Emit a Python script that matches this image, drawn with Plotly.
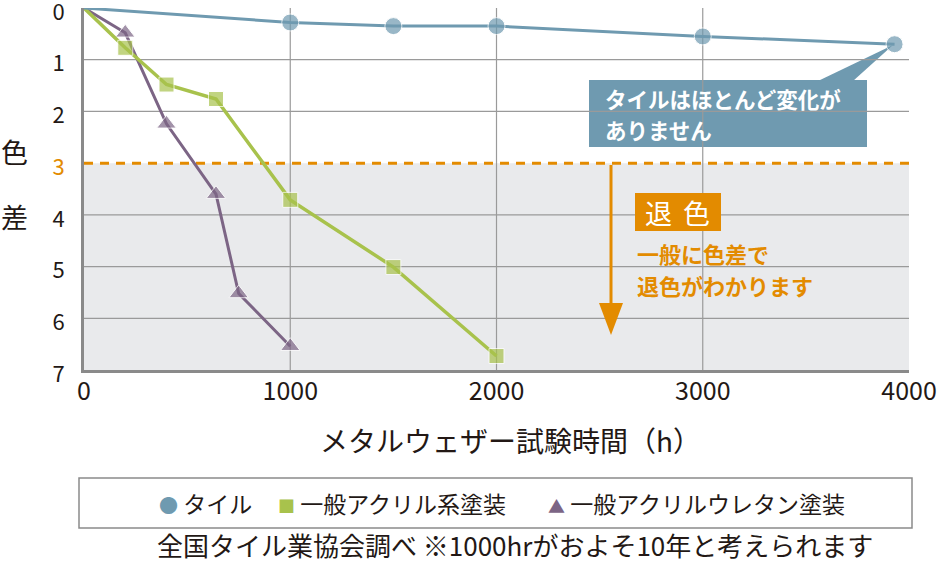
import plotly.graph_objects as go

# ---------------- data ----------------
tile_x = [0, 1000, 1500, 2000, 3000, 3930]
tile_y = [0, 0.28, 0.35, 0.35, 0.55, 0.70]

acryl_x = [0, 200, 400, 640, 1000, 1500, 2000]
acryl_y = [0, 0.77, 1.48, 1.76, 3.71, 5.01, 6.73]

urethane_x = [0, 200, 400, 640, 750, 1000]
urethane_y = [0, 0.48, 2.24, 3.60, 5.52, 6.54]

x_ticks = [0, 1000, 2000, 3000, 4000]
y_ticks = [0, 1, 2, 3, 4, 5, 6, 7]
threshold = 3

series_names = ["タイル", "一般アクリル系塗装", "一般アクリルウレタン塗装"]

# ---------------- style ----------------
FONT = "Noto Sans CJK JP"
TXT = "#231815"
BLUE = "#6f9ab0"
GREEN = "#a8c24c"
PURPLE = "#7c6585"
ORANGE = "#e38b00"
GRID = "#9a9a9a"
SHADE = "#e9eaec"

W, H = 944, 562
L, R, T, B = 84, 35, 8, 192
PW, PH = W - L - R, H - T - B


def px(x):
    return (x - L) / PW


def py(y):
    return (H - B - y) / PH


fig = go.Figure()

def marker_sizes(n, s):
    return [0] + [s] * (n - 1)

fig.add_trace(go.Scatter(
    x=urethane_x, y=urethane_y, mode="lines+markers", name=series_names[2],
    line=dict(color=PURPLE, width=3),
    marker=dict(symbol="triangle-up", size=marker_sizes(len(urethane_x), 17), color=PURPLE),
    showlegend=False, hoverinfo="skip"))
fig.add_trace(go.Scatter(
    x=acryl_x, y=acryl_y, mode="lines+markers", name=series_names[1],
    line=dict(color=GREEN, width=3.5),
    marker=dict(symbol="square", size=marker_sizes(len(acryl_x), 15), color=GREEN),
    showlegend=False, hoverinfo="skip"))
fig.add_trace(go.Scatter(
    x=tile_x, y=tile_y, mode="lines+markers", name=series_names[0],
    line=dict(color=BLUE, width=3),
    marker=dict(symbol="circle", size=marker_sizes(len(tile_x), 17), color=BLUE),
    showlegend=False, hoverinfo="skip"))

shapes = []
# shaded region beyond threshold
shapes.append(dict(type="rect", xref="x", yref="y", x0=x_ticks[0], x1=x_ticks[-1],
                   y0=threshold, y1=y_ticks[-1], fillcolor=SHADE, line=dict(width=0),
                   layer="below"))
# horizontal grid lines
for v in y_ticks[1:-1]:
    if v == threshold:
        continue
    shapes.append(dict(type="line", xref="x", yref="y", x0=x_ticks[0], x1=x_ticks[-1],
                       y0=v, y1=v, line=dict(color=GRID, width=1.2), layer="between"))
# vertical grid lines
for v in x_ticks[1:-1]:
    shapes.append(dict(type="line", xref="x", yref="y", x0=v, x1=v,
                       y0=y_ticks[0], y1=y_ticks[-1], line=dict(color=GRID, width=1.2),
                       layer="between"))
# threshold dashed line
shapes.append(dict(type="line", xref="x", yref="y", x0=x_ticks[0], x1=x_ticks[-1],
                   y0=threshold, y1=threshold,
                   line=dict(color=ORANGE, width=3, dash="9px,7px"), layer="between"))
# orange arrow
shapes.append(dict(type="line", xref="paper", yref="paper", x0=px(611), x1=px(611),
                   y0=py(165), y1=py(306), line=dict(color=ORANGE, width=3), layer="above"))
shapes.append(dict(type="path", xref="paper", yref="paper",
                   path=f"M{px(599)},{py(303)} L{px(623)},{py(303)} L{px(611)},{py(335)} Z",
                   fillcolor=ORANGE, line=dict(width=0), layer="above"))
# blue callout box + pointer
shapes.append(dict(type="rect", xref="paper", yref="paper", x0=px(589), x1=px(867),
                   y0=py(147), y1=py(80), fillcolor=BLUE, line=dict(width=0), layer="between"))
shapes.append(dict(type="path", xref="paper", yref="paper",
                   path=f"M{px(818)},{py(81)} L{px(853)},{py(81)} L{px(893)},{py(45)} Z",
                   fillcolor=BLUE, line=dict(width=0), layer="between"))
# orange label box
shapes.append(dict(type="rect", xref="paper", yref="paper", x0=px(635), x1=px(721),
                   y0=py(231), y1=py(193), fillcolor=ORANGE, line=dict(width=0), layer="above"))
# legend box
shapes.append(dict(type="rect", xref="paper", yref="paper", x0=px(79), x1=px(912),
                   y0=py(528), y1=py(478), line=dict(color="#8a8a8a", width=1.5), layer="above"))

ann = []

def text(x, y, s, size, color=TXT, xanchor="center", yanchor="middle", align="center"):
    ann.append(dict(x=px(x), y=py(y), xref="paper", yref="paper", text=s, showarrow=False,
                    font=dict(family=FONT, size=size, color=color), xanchor=xanchor,
                    yanchor=yanchor, align=align))

# y axis title
text(14, 151, "色", 27)
text(14, 216, "差", 27)
# x axis title
text(318, 440, "メタルウェザー試験時間（h）", 28, xanchor="left")
# blue callout
text(603, 99, "<b>タイルはほとんど変化が</b>", 21.5, color="white", xanchor="left")
text(603, 129, "<b>ありません</b>", 21.5, color="white", xanchor="left")
# orange label
text(658, 212, "退", 27, color="white")
text(696, 212, "色", 27, color="white")
text(635, 253, "<b>一般に色差で</b>", 22, color=ORANGE, xanchor="left")
text(635, 285, "<b>退色がわかります</b>", 22, color=ORANGE, xanchor="left")
# legend items
text(157, 503, f"<span style='color:{BLUE};font-size:19px'>●</span> {series_names[0]}", 23,
     xanchor="left")
text(276, 503, f"<span style='color:{GREEN};font-size:17px'>■</span> {series_names[1]}", 23,
     xanchor="left")
text(546, 503, f"<span style='color:{PURPLE};font-size:17px'>▲</span> {series_names[2]}", 23,
     xanchor="left")
# footer
text(515, 544, "全国タイル業協会調べ ※1000hrがおよそ10年と考えられます", 26)

y_ticktext = [f"<span style='color:{ORANGE}'>{v}</span>" if v == threshold else str(v)
              for v in y_ticks]

fig.update_layout(
    width=W, height=H,
    margin=dict(l=L, r=R, t=T, b=B, autoexpand=False),
    paper_bgcolor="white", plot_bgcolor="white",
    shapes=shapes, annotations=ann,
    font=dict(family=FONT, color=TXT),
    xaxis=dict(range=[x_ticks[0], x_ticks[-1]], tickvals=x_ticks,
               ticktext=[str(v) for v in x_ticks], showgrid=False, zeroline=False,
               showline=True, linecolor="#8a8a8a", linewidth=3, automargin=False,
               ticks="", ticklabeloverflow="allow", ticklabelstandoff=-3,
               tickfont=dict(family=FONT, size=25, color=TXT)),
    yaxis=dict(range=[y_ticks[-1], y_ticks[0]], tickvals=y_ticks, ticktext=y_ticktext,
               showgrid=False, zeroline=False, showline=True, linecolor="#8a8a8a",
               linewidth=3, ticks="outside", ticklen=12, tickcolor="rgba(0,0,0,0)",
               automargin=False, ticklabeloverflow="allow", ticklabelshift=-4,
               tickfont=dict(family=FONT, size=22, color=TXT)),
)

fig.write_html("out.html")
